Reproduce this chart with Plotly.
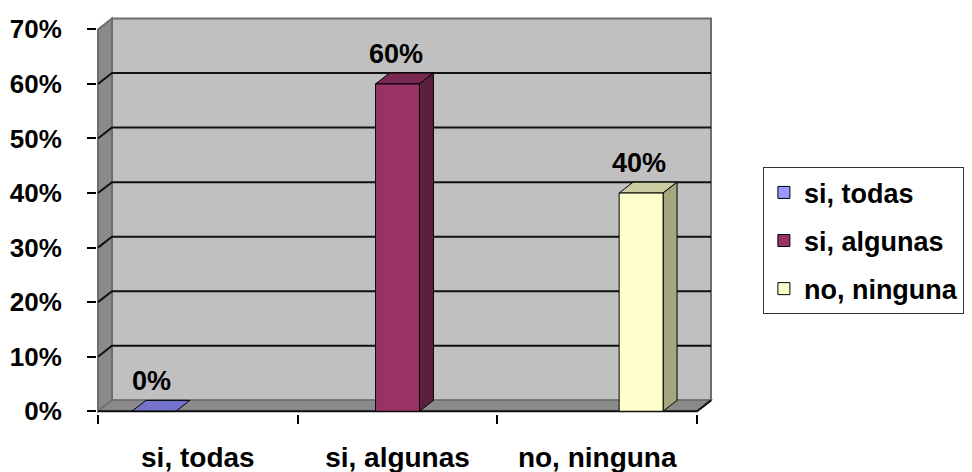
import plotly.graph_objects as go

# ---------------- data ----------------
categories = ["si, todas", "si, algunas", "no, ninguna"]
values = [0.0, 0.60, 0.40]
value_labels = ["0%", "60%", "40%"]
y_tick_vals = [0.0, 0.1, 0.2, 0.3, 0.4, 0.5, 0.6, 0.7]
y_tick_text = ["0%", "10%", "20%", "30%", "40%", "50%", "60%", "70%"]

# ---------------- style ----------------
front_colors = ["#9999FF", "#993366", "#FFFFCC"]
top_colors = ["#7474CC", "#7A2952", "#CCCCA3"]
side_colors = ["#5C5C99", "#5C1F3D", "#A6A67F"]
WALL_BACK = "#C0C0C0"
WALL_SIDE = "#8A8A8A"
WALL_EDGE = "#6E6E6E"
FONT = "Liberation Sans, Arial, sans-serif"

BARGAP = 0.34
DX = 0.07   # depth offset in x data units
DY = 0.02   # depth offset in y data units
YMAX = 0.70

n = len(categories)
xs = list(range(n))
bw = (1 - BARGAP) / n
L, R = -0.5, n - 0.5


def path(pts):
    s = "M %f,%f " % pts[0]
    for p in pts[1:]:
        s += "L %f,%f " % p
    return s + "Z"


def line_path(pts):
    s = "M %f,%f " % pts[0]
    for p in pts[1:]:
        s += "L %f,%f " % p
    return s


fig = go.Figure()
for j, cat in enumerate(categories):
    yv = [values[j] if i == j else None for i in range(n)]
    fig.add_trace(go.Bar(
        x=xs, y=yv, name=cat, legendgroup=cat,
        marker=dict(color=front_colors[j], line=dict(color="black", width=1)),
        hoverinfo="skip",
    ))

shapes = []
# back wall
shapes.append(dict(type="path", xref="x", yref="y", layer="below",
                   path=path([(L + DX, DY), (R + DX, DY), (R + DX, YMAX + DY), (L + DX, YMAX + DY)]),
                   fillcolor=WALL_BACK, line=dict(color=WALL_EDGE, width=2)))
# left wall
shapes.append(dict(type="path", xref="x", yref="y", layer="below",
                   path=path([(L, 0), (L + DX, DY), (L + DX, YMAX + DY), (L, YMAX)]),
                   fillcolor=WALL_SIDE, line=dict(color=WALL_EDGE, width=2)))
# floor
shapes.append(dict(type="path", xref="x", yref="y", layer="below",
                   path=path([(L, 0), (R, 0), (R + DX, DY), (L + DX, DY)]),
                   fillcolor=WALL_SIDE, line=dict(color=WALL_EDGE, width=1.5)))
# gridlines
for v in y_tick_vals[1:-1]:
    shapes.append(dict(type="path", xref="x", yref="y", layer="below",
                       path=line_path([(L, v), (L + DX, v + DY), (R + DX, v + DY)]),
                       line=dict(color="#111111", width=2)))
# front floor edges
shapes.append(dict(type="path", xref="x", yref="y", layer="below",
                   path=line_path([(L, 0), (R, 0), (R + DX, DY)]),
                   line=dict(color="#111111", width=2)))
# bar depth faces
for j in range(n):
    c = j + (j - (n - 1) / 2) * bw
    x0, x1 = c - bw / 2, c + bw / 2
    v = values[j]
    shapes.append(dict(type="path", xref="x", yref="y", layer="below",
                       path=path([(x0, v), (x1, v), (x1 + DX, v + DY), (x0 + DX, v + DY)]),
                       fillcolor=top_colors[j], line=dict(color="black", width=1)))
    if v > 0:
        shapes.append(dict(type="path", xref="x", yref="y", layer="below",
                           path=path([(x1, 0), (x1 + DX, DY), (x1 + DX, v + DY), (x1, v)]),
                           fillcolor=side_colors[j], line=dict(color="black", width=1)))

annotations = []
for j in range(n):
    c = j + (j - (n - 1) / 2) * bw
    annotations.append(dict(x=c + DX / 2 - 0.045, y=values[j] + DY, xref="x", yref="y",
                            text=value_labels[j], showarrow=False, yanchor="bottom",
                            yshift=2, font=dict(family=FONT, size=27, color="black", weight="bold")))

fig.update_layout(
    width=972, height=472,
    margin=dict(l=97, r=259, t=13, b=58, autoexpand=False),
    paper_bgcolor="white", plot_bgcolor="white",
    barmode="group", bargap=BARGAP, bargroupgap=0,
    shapes=shapes, annotations=annotations,
    font=dict(family=FONT, size=26, color="black", weight="bold"),
    legend=dict(x=1.081, y=0.615, xanchor="left", yanchor="top",
                bordercolor="#333333", borderwidth=1, bgcolor="white",
                font=dict(family=FONT, size=27, color="black", weight="bold"),
                tracegroupgap=10),
    showlegend=True,
)
fig.update_xaxes(range=[L - 0.005, R + DX + 0.01], tickvals=xs, ticktext=categories,
                 ticks="", showgrid=False, zeroline=False, showline=False,
                 automargin=False, ticklabelstandoff=24,
                 tickfont=dict(family=FONT, size=28, color="black", weight="bold"),
                 minor=dict(tickvals=[L + k for k in range(n + 1)], ticks="outside",
                            ticklen=9, tickcolor="black", tickwidth=1.5, showgrid=False))
fig.update_yaxes(range=[-0.005, YMAX + DY + 0.01], tickvals=y_tick_vals, ticktext=y_tick_text,
                 ticks="outside", ticklen=9, tickcolor="black", tickwidth=1.5,
                 showgrid=False, zeroline=False, showline=False,
                 automargin=False, ticklabelstandoff=20,
                 tickfont=dict(family=FONT, size=26, color="black", weight="bold"))

fig.write_html("out.html")
